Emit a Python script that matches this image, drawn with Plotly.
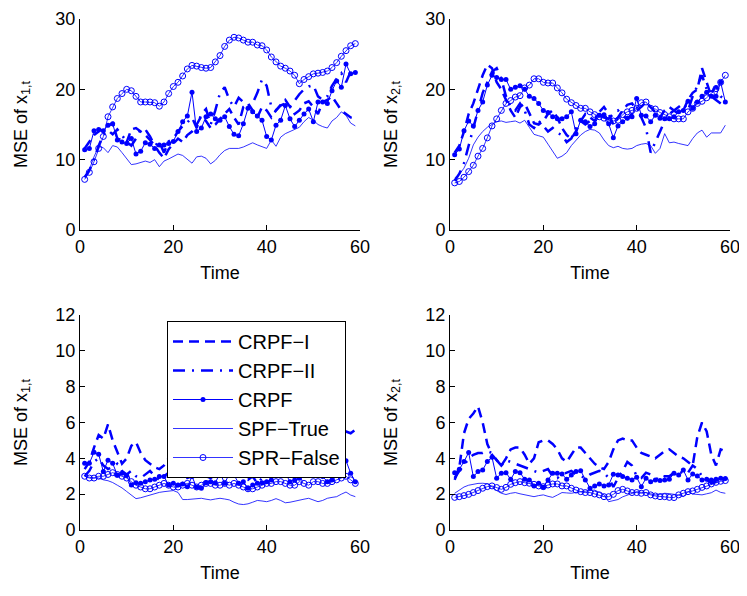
import plotly.graph_objects as go
from plotly.subplots import make_subplots

t = list(range(1, 60))

# ---- top-left: MSE of x_{1,t} (high noise) ----
tl_crpf1 = [11.6, 12.5, 13.5, 14.0, 14.5, 14.8, 15.2, 13.0, 12.8, 12.5, 14.3, 14.5, 14.0, 13.5, 12.8, 12.0, 11.0, 10.2, 11.5, 12.3,
            13.0, 12.5, 13.5, 14.0, 15.0, 16.2, 15.5, 14.5, 15.0, 15.8, 16.5, 17.2, 16.0, 15.0, 17.5, 18.0, 17.0, 16.0, 17.5, 17.0,
            16.0, 17.0, 17.8, 18.5, 17.5, 16.5, 17.0, 18.0, 18.3, 17.5, 16.5, 18.2, 18.5, 19.0, 18.0, 17.0, 16.5, 16.0, 15.8]
tl_crpf2 = [7.5, 8.5, 10.0, 12.0, 13.5, 14.2, 13.6, 14.3, 13.5, 12.5, 12.0, 13.0, 14.3, 14.3, 13.3, 12.0, 12.5, 11.0, 12.6, 13.0,
            14.0, 14.8, 15.3, 16.0, 14.5, 16.5, 17.2, 15.0, 17.0, 19.5, 20.3, 18.5, 17.5, 18.8, 18.2, 17.7, 18.0, 19.5, 21.4, 20.5,
            17.5, 17.0, 17.7, 18.0, 17.5, 18.4, 19.3, 20.0, 20.4, 20.6, 19.0, 18.5, 19.0, 20.5, 21.5, 22.3, 21.0, 22.5, 22.0]
tl_crpf = [11.4, 11.6, 14.1, 14.3, 14.1, 14.9, 15.1, 12.8, 12.5, 12.3, 13.0, 10.8, 11.2, 12.4, 12.2, 11.6, 12.1, 12.1, 12.3, 12.6,
           14.0, 15.4, 16.2, 19.6, 14.0, 14.5, 16.1, 16.5, 15.8, 15.6, 16.1, 14.7, 13.6, 13.4, 15.1, 17.3, 16.8, 16.2, 15.6, 13.3,
           12.8, 14.9, 15.6, 17.7, 15.8, 14.7, 15.6, 16.5, 17.2, 15.4, 18.2, 18.2, 18.0, 19.8, 21.2, 20.3, 23.6, 22.2, 22.4]
tl_spf_true = [7.5, 8.6, 10.4, 11.9, 11.7, 11.0, 12.0, 11.8, 11.0, 10.2, 9.3, 9.4, 9.6, 9.8, 9.6, 10.0, 9.0, 9.8, 10.1, 10.5,
               10.8, 10.6, 10.1, 9.5, 10.4, 10.5, 10.2, 9.4, 9.9, 10.7, 11.3, 11.6, 11.6, 11.6, 11.8, 12.1, 12.4, 12.1, 11.8, 11.6,
               12.8, 11.9, 13.2, 13.7, 14.0, 14.3, 14.6, 15.4, 16.0, 15.6, 15.0, 14.7, 14.5, 15.5, 16.0, 16.8, 16.3, 15.2, 14.8]
tl_spr_false = [7.2, 8.2, 9.7, 11.6, 13.3, 16.1, 17.5, 18.7, 19.4, 20.0, 19.8, 19.0, 18.2, 18.2, 18.2, 18.1, 17.6, 18.2, 19.4, 20.4,
                21.0, 21.9, 22.9, 23.4, 23.3, 23.1, 23.0, 23.1, 23.9, 24.8, 26.1, 27.0, 27.4, 27.3, 27.0, 26.7, 26.7, 26.3, 26.2, 25.6,
                24.6, 23.9, 23.3, 23.0, 22.6, 22.0, 20.8, 21.4, 21.8, 22.2, 22.3, 22.4, 22.6, 23.1, 23.8, 24.7, 25.5, 26.2, 26.5]

# ---- top-right: MSE of x_{2,t} (high noise) ----
tr_crpf1 = [11.0, 12.0, 14.0, 16.5, 18.0, 20.0, 22.0, 23.5, 23.0, 21.0, 20.0, 18.5, 17.0, 16.0, 17.5, 18.0, 16.5, 15.2, 15.0, 15.5,
            16.5, 17.0, 16.0, 14.5, 13.5, 13.0, 14.0, 15.5, 16.5, 16.0, 15.5, 16.8, 17.5, 16.5, 15.0, 16.0, 17.0, 17.8, 18.0, 17.0,
            17.5, 18.2, 17.5, 16.8, 16.0, 17.0, 17.5, 17.0, 16.5, 17.0, 18.5, 19.5, 20.0, 23.0, 21.0, 19.0, 18.5, 18.0, 17.5]
tr_crpf2 = [7.0, 8.0, 9.5, 12.0, 14.5, 17.0, 19.5, 21.0, 22.5, 23.0, 21.5, 19.0, 17.5, 17.0, 18.0, 17.0, 15.0, 14.5, 15.5, 14.8,
            14.0, 14.5, 13.8, 13.5, 12.5, 13.0, 14.5, 15.5, 15.0, 15.5, 16.0, 16.5, 16.0, 15.8, 16.5, 17.0, 16.2, 15.8, 16.5, 17.5,
            16.0, 14.5, 11.0, 12.5, 14.0, 15.5, 16.5, 17.0, 17.5, 18.0, 17.0, 19.0, 20.5, 22.0, 20.0, 19.5, 20.5, 19.0, 18.5]
tr_crpf = [10.7, 11.5, 14.1, 15.5, 14.8, 17.0, 18.2, 20.6, 22.0, 21.7, 21.4, 21.4, 20.0, 20.3, 20.5, 20.0, 19.0, 18.7, 18.0, 17.0,
           16.7, 16.1, 15.8, 15.8, 16.1, 16.8, 13.7, 15.6, 15.4, 14.7, 15.1, 16.3, 16.4, 15.1, 13.1, 14.8, 15.4, 15.9, 16.1, 18.7,
           16.3, 16.2, 15.4, 16.3, 15.9, 15.8, 15.8, 16.1, 16.8, 17.0, 18.3, 17.3, 18.2, 19.0, 19.6, 19.0, 19.0, 21.0, 18.2]
tr_spf_true = [7.4, 7.9, 8.8, 10.2, 12.1, 13.2, 14.0, 14.6, 15.0, 15.4, 15.5, 15.3, 15.4, 15.5, 15.2, 15.6, 14.6, 13.6, 13.4, 13.2,
               12.2, 11.2, 10.2, 10.5, 11.0, 12.0, 12.8, 13.5, 14.0, 14.3, 14.2, 13.8, 12.8, 12.0, 11.7, 11.9, 11.6, 11.5, 11.6, 12.0,
               12.2, 12.3, 12.0, 10.9, 11.6, 13.7, 12.4, 12.5, 12.3, 12.1, 12.0, 13.0, 13.8, 14.2, 13.2, 13.8, 13.8, 13.8, 14.9]
tr_spr_false = [6.7, 6.9, 7.5, 8.3, 9.2, 10.5, 11.6, 13.1, 14.8, 15.8, 17.0, 18.0, 18.4, 18.9, 19.1, 20.2, 20.6, 21.5, 21.5, 21.0,
                20.9, 20.9, 20.2, 19.5, 18.6, 18.1, 17.7, 17.3, 17.3, 16.8, 16.4, 16.1, 15.9, 15.6, 15.5, 15.6, 16.4, 16.8, 17.0, 17.3,
                18.1, 18.2, 17.3, 17.2, 16.7, 16.4, 16.1, 15.8, 15.8, 15.8, 16.8, 17.3, 18.0, 18.3, 18.8, 19.4, 20.1, 21.0, 22.0]

# ---- bottom-left: MSE of x_{1,t} (low noise) ----
bl_crpf1 = [3.4, 3.8, 4.6, 5.3, 5.1, 5.9, 5.0, 4.3, 3.7, 4.0, 4.7, 4.9, 4.3, 3.9, 3.7, 3.5, 3.4, 3.6, 4.0, 4.3,
            3.5, 4.2, 4.2, 3.8, 3.5, 3.7, 4.2, 4.3, 4.2, 4.0, 3.7, 3.8, 4.4, 4.8, 4.6, 4.4, 3.8, 3.1, 3.6, 4.0,
            4.1, 4.4, 4.6, 4.7, 4.5, 4.8, 4.6, 4.4, 4.3, 4.0, 3.8, 3.7, 4.2, 4.6, 5.0, 5.3, 5.5, 5.4, 5.6]
bl_crpf2 = [3.0, 3.3, 3.8, 4.0, 3.6, 3.4, 3.5, 3.7, 3.3, 3.1, 3.3, 3.0, 2.9, 3.1, 3.3, 3.0, 2.8, 3.0, 3.2, 3.1,
            3.5, 3.3, 2.9, 3.0, 3.2, 3.4, 3.0, 2.9, 3.1, 3.3, 3.0, 3.2, 3.4, 3.1, 2.9, 2.8, 3.0, 2.6, 2.9, 3.1,
            3.4, 3.3, 3.0, 3.1, 3.2, 3.3, 3.2, 3.4, 3.1, 3.0, 3.3, 3.2, 3.0, 3.1, 3.3, 3.5, 3.4, 3.2, 3.0]
bl_crpf = [3.72, 3.72, 4.34, 4.23, 3.26, 3.9, 3.72, 3.07, 3.17, 3.04, 2.51, 2.64, 2.61, 2.7, 2.79, 2.83, 2.98, 2.98, 2.51, 2.61,
           2.51, 2.57, 2.42, 2.98, 2.38, 2.33, 2.64, 2.7, 2.64, 3.17, 2.61, 3.13, 3.07, 2.61, 2.7, 2.33, 2.51, 2.61, 2.64, 2.7,
           2.79, 3.63, 3.26, 3.17, 2.7, 2.79, 2.89, 3.13, 3.2, 3.2, 3.13, 2.98, 2.7, 2.79, 3.26, 3.45, 3.87, 3.17, 2.7]
bl_spf_true = [3.0, 2.95, 2.9, 2.9, 2.8, 2.75, 2.65, 2.5, 2.35, 2.15, 1.95, 1.75, 1.8, 1.88, 1.97, 2.05, 2.1, 2.14, 2.18, 2.2,
               2.1, 1.7, 1.7, 1.72, 1.75, 1.77, 1.72, 1.68, 1.73, 1.77, 1.73, 1.68, 1.55, 1.45, 1.42, 1.46, 1.55, 1.65, 1.62, 1.58,
               1.65, 1.75, 1.65, 1.52, 1.55, 1.62, 1.68, 1.72, 1.77, 1.68, 1.58, 1.65, 1.77, 1.82, 1.86, 2.0, 2.12, 1.95, 1.86]
bl_spr_false = [3.0, 2.9, 2.9, 3.0, 3.0, 3.1, 3.2, 3.1, 3.0, 2.9, 2.7, 2.5, 2.4, 2.3, 2.3, 2.4, 2.5, 2.6, 2.5, 2.4,
                2.4, 2.5, 2.6, 2.5, 2.4, 2.5, 2.6, 2.6, 2.5, 2.5, 2.6, 2.5, 2.6, 2.5, 2.4, 2.3, 2.3, 2.4, 2.5, 2.6,
                2.6, 2.7, 2.7, 2.6, 2.5, 2.5, 2.7, 2.6, 2.5, 2.7, 2.7, 2.6, 2.6, 2.7, 2.8, 2.9, 3.0, 2.8, 2.6]

# ---- bottom-right: MSE of x_{2,t} (low noise) ----
br_crpf1 = [2.8, 3.5, 5.4, 6.2, 6.5, 6.9, 6.0, 4.8, 4.2, 3.9, 3.6, 4.0, 4.5, 4.6, 4.6, 4.2, 3.7, 4.0, 4.9, 5.0,
            5.0, 4.8, 4.5, 4.0, 3.8, 4.2, 4.6, 4.6, 4.3, 4.0, 3.7, 3.5, 3.4, 3.8, 4.5, 5.0, 5.1, 5.0, 5.0, 4.6,
            4.3, 4.2, 4.1, 4.0, 4.2, 4.4, 4.5, 4.3, 4.1, 4.0, 3.8, 3.6, 5.2, 6.0, 5.5, 4.2, 3.6, 4.5, 4.4]
br_crpf2 = [2.9, 3.3, 3.6, 4.0, 4.2, 4.3, 4.3, 4.4, 4.3, 3.9, 3.6, 3.9, 3.8, 3.7, 3.6, 3.5, 3.4, 3.3, 3.2, 3.3,
            3.4, 3.0, 2.9, 3.1, 3.2, 3.3, 3.1, 3.0, 2.9, 3.1, 3.2, 3.3, 3.2, 2.9, 2.4, 2.9, 3.3, 3.8, 3.6, 3.0,
            2.9, 3.2, 3.1, 2.9, 2.8, 3.0, 3.0, 3.2, 3.1, 3.3, 3.2, 3.6, 3.4, 3.0, 2.8, 2.6, 2.7, 2.9, 2.8]
br_crpf = [3.2, 3.39, 3.82, 4.32, 2.98, 3.26, 3.35, 3.82, 4.06, 2.89, 3.17, 3.2, 2.83, 3.26, 3.2, 2.83, 2.79, 2.46, 2.61, 2.38,
           2.79, 3.17, 3.17, 3.13, 2.83, 3.07, 3.26, 3.31, 2.79, 2.33, 2.46, 2.57, 2.46, 2.51, 3.11, 3.07, 2.98, 2.89, 2.79, 2.94,
           2.42, 2.89, 2.7, 2.79, 2.76, 2.79, 2.83, 3.17, 3.07, 3.35, 2.79, 3.13, 3.02, 2.79, 2.83, 2.79, 2.83, 2.89, 2.87]
br_spf_true = [2.05, 2.25, 2.4, 2.5, 2.57, 2.6, 2.61, 2.58, 2.42, 2.2, 2.05, 1.98, 2.05, 2.09, 2.02, 1.96, 1.9, 1.86, 1.92, 1.96,
               1.88, 1.82, 1.95, 2.09, 2.07, 2.05, 2.1, 2.14, 2.17, 2.2, 2.23, 2.1, 1.96, 1.58, 1.63, 1.7, 1.85, 1.96, 2.05, 2.14,
               2.1, 2.09, 2.02, 1.96, 2.0, 2.05, 2.03, 2.01, 1.95, 1.86, 2.14, 2.01, 1.98, 1.96, 2.02, 2.08, 2.23, 2.1, 2.05]
br_spr_false = [1.82, 1.86, 1.92, 1.99, 2.09, 2.2, 2.33, 2.42, 2.46, 2.37, 2.27, 2.38, 2.55, 2.64, 2.7, 2.64, 2.61, 2.55, 2.46, 2.42,
                2.51, 2.57, 2.57, 2.46, 2.46, 2.33, 2.23, 2.14, 2.09, 2.09, 2.01, 1.96, 1.86, 1.86, 1.99, 2.2, 2.27, 2.18, 2.09, 2.09,
                2.05, 2.09, 1.96, 1.9, 1.86, 1.86, 1.82, 1.81, 1.96, 2.05, 2.14, 2.18, 2.27, 2.38, 2.46, 2.57, 2.66, 2.72, 2.76]

names = ["CRPF\u2212I", "CRPF\u2212II", "CRPF", "SPF\u2212True", "SPR\u2212False"]
panels = [
    (1, 1, [tl_crpf1, tl_crpf2, tl_crpf, tl_spf_true, tl_spr_false]),
    (1, 2, [tr_crpf1, tr_crpf2, tr_crpf, tr_spf_true, tr_spr_false]),
    (2, 1, [bl_crpf1, bl_crpf2, bl_crpf, bl_spf_true, bl_spr_false]),
    (2, 2, [br_crpf1, br_crpf2, br_crpf, br_spf_true, br_spr_false]),
]

BLUE = "#0000ff"
styles = [
    dict(mode="lines", line=dict(color=BLUE, width=2.5, dash="10px,6px")),
    dict(mode="lines", line=dict(color=BLUE, width=2.5, dash="12px,7px,2px,7px")),
    dict(mode="lines+markers", line=dict(color=BLUE, width=1), marker=dict(symbol="circle", size=5, color=BLUE)),
    dict(mode="lines", line=dict(color=BLUE, width=0.8)),
    dict(mode="lines+markers", line=dict(color=BLUE, width=0.8),
         marker=dict(symbol="circle-open", size=6, color=BLUE, line=dict(width=1))),
]

fig = make_subplots(rows=2, cols=2)
for r, c, series in panels:
    for name, ys, st in zip(names, series, styles):
        fig.add_trace(go.Scatter(x=t, y=ys, name=name, showlegend=(r == 2 and c == 1), **st), row=r, col=c)

FONT = "Liberation Sans, Arial, sans-serif"
ax_common = dict(showline=True, linecolor="black", linewidth=1, ticks="inside", ticklen=5, tickcolor="black",
                 showgrid=False, zeroline=False, automargin=False, ticklabeloverflow="allow",
                 tickfont=dict(size=18, color="black", family=FONT))

# the page keeps an 8px body margin, so positions are shifted by it
W, H, OFF = 739, 580, 8
def xdom(a, b):
    return [(a - OFF) / W, (b - OFF) / W]
def ydom(top, bot):
    return [1 - (bot - OFF) / H, 1 - (top - OFF) / H]

fig.update_xaxes(range=[0, 60], tickvals=[0, 20, 40, 60], title_text="Time",
                 title_font=dict(size=18, color="black", family=FONT), title_standoff=10, **ax_common)
fig.update_yaxes(title_font=dict(size=18, color="black", family=FONT), title_standoff=23, **ax_common)

fig.update_xaxes(domain=xdom(80, 360), col=1)
fig.update_xaxes(domain=xdom(450, 730), col=2)
fig.update_yaxes(domain=ydom(19, 230), row=1, range=[0, 30], tickvals=[0, 10, 20, 30])
fig.update_yaxes(domain=ydom(315, 530), row=2, range=[0, 12], tickvals=[0, 2, 4, 6, 8, 10, 12])
fig.update_yaxes(title_text="MSE of x<sub>1,t</sub>", col=1)
fig.update_yaxes(title_text="MSE of x<sub>2,t</sub>", col=2)

fig.update_layout(
    template="none",
    width=W, height=H,
    margin=dict(l=0, r=0, t=0, b=0, autoexpand=False),
    paper_bgcolor="white", plot_bgcolor="white",
    font=dict(family=FONT, color="black"),
    legend=dict(x=(167 - OFF) / W, y=1 - (321 - OFF) / H, xanchor="left", yanchor="top",
                bgcolor="white", bordercolor="black", borderwidth=1,
                font=dict(size=20, color="black", family=FONT),
                itemwidth=60, tracegroupgap=0),
)

fig.write_html("out.html")
